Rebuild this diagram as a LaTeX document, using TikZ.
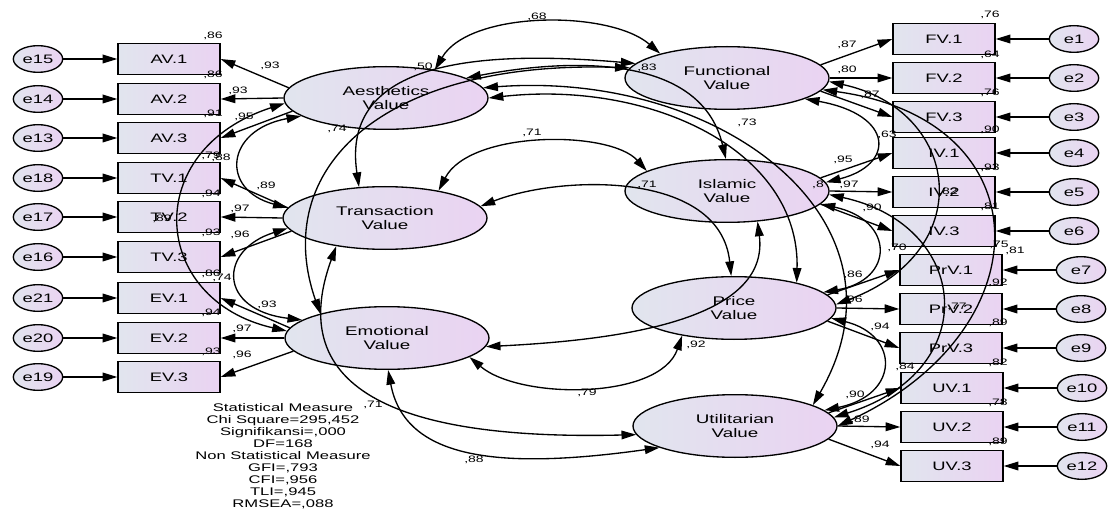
\documentclass[tikz,border=0pt]{standalone}
\usepackage{fontspec}
\setmainfont{Liberation Sans}[FakeStretch=1.5]
\usetikzlibrary{arrows.meta,shapes.geometric}
\definecolor{fillL}{HTML}{E1E5EE}
\definecolor{fillR}{HTML}{EAD3F2}
\tikzset{
  lat/.style={ellipse,draw,line width=1pt,minimum width=153pt,minimum height=47pt,inner sep=0pt,
    left color=fillL,right color=fillR,align=center,font=\fontsize{9.4}{10.7}\selectfont},
  obs/.style={rectangle,draw,line width=1pt,minimum width=76.5pt,minimum height=23pt,inner sep=0pt,
    left color=fillL,right color=fillR,font=\fontsize{9.2}{11}\selectfont},
  err/.style={ellipse,draw,line width=1pt,minimum width=37pt,minimum height=20pt,inner sep=0pt,
    left color=fillL,right color=fillR,font=\fontsize{9.2}{11}\selectfont},
  lab/.style={font=\fontsize{7}{8}\selectfont,inner sep=0pt},
  ld/.style={->,line width=1pt},
  cov/.style={<->,line width=1pt},
  >={Triangle[length=11pt,width=6.5pt]}
}
\begin{document}
\begin{tikzpicture}[x=0.75pt,y=-0.75pt]
\useasboundingbox (0,0) rectangle (1109,513);
% left observed
\node[obs] (AV1) at (169,59) {AV.1};
\node[obs] (AV2) at (169,99) {AV.2};
\node[obs] (AV3) at (169,138) {AV.3};
\node[obs] (TV1) at (169,178) {TV.1};
\node[obs] (TV2) at (169,217) {TV.2};
\node[obs] (TV3) at (169,257) {TV.3};
\node[obs] (EV1) at (169,298) {EV.1};
\node[obs] (EV2) at (169,338) {EV.2};
\node[obs] (EV3) at (169,377) {EV.3};
% left errors
\node[err] (e15) at (38,59) {e15};
\node[err] (e14) at (38,99) {e14};
\node[err] (e13) at (38,138) {e13};
\node[err] (e18) at (38,178) {e18};
\node[err] (e17) at (38,217) {e17};
\node[err] (e16) at (38,257) {e16};
\node[err] (e21) at (38,298) {e21};
\node[err] (e20) at (38,338) {e20};
\node[err] (e19) at (38,377) {e19};
% right observed
\node[obs] (FV1) at (944,39) {FV.1};
\node[obs] (FV2) at (944,78) {FV.2};
\node[obs] (FV3) at (944,117) {FV.3};
\node[obs] (IV1) at (944,153) {IV.1};
\node[obs] (IV2) at (944,192) {IV.2};
\node[obs] (IV3) at (944,231) {IV.3};
\node[obs] (PV1) at (951,270) {PrV.1};
\node[obs] (PV2) at (951,309) {PrV.2};
\node[obs] (PV3) at (951,348) {PrV.3};
\node[obs] (UV1) at (952,388) {UV.1};
\node[obs] (UV2) at (952,427) {UV.2};
\node[obs] (UV3) at (952,466) {UV.3};
% right errors
\node[err] (e1) at (1074,39) {e1};
\node[err] (e2) at (1074,78) {e2};
\node[err] (e3) at (1074,117) {e3};
\node[err] (e4) at (1074,153) {e4};
\node[err] (e5) at (1074,192) {e5};
\node[err] (e6) at (1074,231) {e6};
\node[err] (e7) at (1081,270) {e7};
\node[err] (e8) at (1081,309) {e8};
\node[err] (e9) at (1081,348) {e9};
\node[err] (e10) at (1082,388) {e10};
\node[err] (e11) at (1082,427) {e11};
\node[err] (e12) at (1082,466) {e12};
% latents
\node[lat] (Aes) at (386,98) {Aesthetics\\Value};
\node[lat] (Tra) at (385,218) {Transaction\\Value};
\node[lat] (Emo) at (387,338) {Emotional\\Value};
\node[lat] (Fun) at (727,78) {Functional\\Value};
\node[lat] (Isl) at (727,191) {Islamic\\Value};
\node[lat] (Pri) at (734,308) {Price\\Value};
\node[lat] (Uti) at (735,426) {Utilitarian\\Value};
% error arrows
\foreach \e/\b in {e15/AV1,e14/AV2,e13/AV3,e18/TV1,e17/TV2,e16/TV3,e21/EV1,e20/EV2,e19/EV3}
  \draw[ld] (\e) -- (\b);
\foreach \e/\b in {e1/FV1,e2/FV2,e3/FV3,e4/IV1,e5/IV2,e6/IV3,e7/PV1,e8/PV2,e9/PV3,e10/UV1,e11/UV2,e12/UV3}
  \draw[ld] (\e) -- (\b);
% loadings left
\foreach \l/\a/\b/\c in {Aes/AV1/AV2/AV3,Tra/TV1/TV2/TV3,Emo/EV1/EV2/EV3}{
  \draw[ld] (\l.174) -- (\a.east);
  \draw[ld] (\l.180) -- (\b.east);
  \draw[ld] (\l.188) -- (\c.east);
}
% loadings right
\foreach \l/\a/\b/\c in {Fun/FV1/FV2/FV3,Isl/IV1/IV2/IV3,Pri/PV1/PV2/PV3,Uti/UV1/UV2/UV3}{
  \draw[ld] (\l.8) -- (\a.west);
  \draw[ld] (\l.0) -- (\b.west);
  \draw[ld] (\l.352) -- (\c.west);
}
% covariances
\draw[cov] (Aes.192) .. controls (225,130) and (220,190) .. (Tra.174);
\draw[cov] (Tra.186) .. controls (218,250) and (218,310) .. (Emo.168);
\draw[cov] (Aes.183) .. controls (140,150) and (150,300) .. (Emo.176);
\draw[cov] (Fun.345) .. controls (895,115) and (895,165) .. (Isl.5);
\draw[cov] (Isl.352) .. controls (895,220) and (895,280) .. (Pri.10);
\draw[cov] (Pri.354) .. controls (900,335) and (900,395) .. (Uti.10);
\draw[cov] (Fun.358) .. controls (960,110) and (980,250) .. (Pri.2);
\draw[cov] (Isl.358) .. controls (970,225) and (985,370) .. (Uti.5);
\draw[cov] (Fun.353) .. controls (1045,120) and (1045,330) .. (Uti.0);
\draw[cov] (Aes.30) .. controls (470,10) and (610,10) .. (Fun.160);
\draw[cov] (Tra.27) .. controls (470,130) and (610,130) .. (Isl.166);
\draw[cov] (Emo.347) .. controls (520,400) and (660,400) .. (Pri.208);
\draw[cov] (Emo.272) .. controls (405,460) and (500,470) .. (Uti.196);
\draw[cov] (Tra.210) .. controls (280,400) and (420,440) .. (Uti.185);
\draw[cov] (Aes.0) .. controls (650,80) and (800,150) .. (Pri.22);
\draw[cov] (Aes.6) .. controls (720,70) and (920,220) .. (Uti.15);
\draw[cov] (Tra.130) .. controls (340,60) and (480,50) .. (Fun.171);
\draw[cov] (Emo.160) .. controls (270,170) and (380,60) .. (Fun.174);
\draw[cov] (Tra.7) .. controls (560,175) and (720,170) .. (Pri.95);
\draw[cov] (Emo.355) .. controls (620,340) and (770,320) .. (Isl.315);
\draw[cov] (Aes.14) .. controls (560,60) and (700,50) .. (Isl.92);
% left R2 labels
\node[lab] (r1) at (213,36) {,86};
\node[lab] (r2) at (213,75) {,86};
\node[lab] (r3) at (213,114) {,91};
\node[lab] (r4) at (211,156) {,79};
\node[lab] (r5) at (211,194) {,94};
\node[lab] (r6) at (211,233) {,93};
\node[lab] (r7) at (211,274) {,86};
\node[lab] (r8) at (211,313) {,94};
\node[lab] (r9) at (211,352) {,93};
% left loadings
\node[lab] (l1) at (270,66) {,93};
\node[lab] (l2) at (238,91) {,93};
\node[lab] (l3) at (244,117) {,95};
\node[lab] (l4) at (266,186) {,89};
\node[lab] (l5) at (240,209) {,97};
\node[lab] (l6) at (240,235) {,96};
\node[lab] (l7) at (267,305) {,93};
\node[lab] (l8) at (242,329) {,97};
\node[lab] (l9) at (242,355) {,96};
% right loadings
\node[lab] (m1) at (847,45) {,87};
\node[lab] (m2) at (847,70) {,80};
\node[lab] (m3) at (870,95) {,87};
\node[lab] (m4) at (843,160) {,95};
\node[lab] (m5) at (849,185) {,97};
\node[lab] (m6) at (872,208) {,90};
\node[lab] (m7) at (853,275) {,86};
\node[lab] (m8) at (853,300) {,96};
\node[lab] (m9) at (880,327) {,94};
\node[lab] (m10) at (855,395) {,90};
\node[lab] (m11) at (860,420) {,89};
\node[lab] (m12) at (880,445) {,94};
% right R2 labels
\node[lab] (s1) at (990,15) {,76};
\node[lab] (s2) at (990,55) {,64};
\node[lab] (s3) at (990,93) {,76};
\node[lab] (s4) at (990,130) {,90};
\node[lab] (s5) at (990,168) {,93};
\node[lab] (s6) at (990,207) {,81};
\node[lab] (s7) at (999,245) {,75};
\node[lab] (s8) at (998,283) {,92};
\node[lab] (s9) at (998,323) {,89};
\node[lab] (s10) at (998,363) {,82};
\node[lab] (s11) at (998,403) {,78};
\node[lab] (s12) at (998,442) {,89};
% covariance labels
\node[lab] (c1) at (221,158) {,88};
\node[lab] (c2) at (222,278) {,74};
\node[lab] (c3) at (162,219) {,89};
\node[lab] (c4) at (887,135) {,63};
\node[lab] (c5) at (897,248) {,70};
\node[lab] (c6) at (905,367) {,84};
\node[lab] (c7) at (948,192) {,82};
\node[lab] (c8) at (957,307) {,77};
\node[lab] (c9) at (1015,251) {,81};
\node[lab] (c10) at (537,17) {,68};
\node[lab] (c11) at (532,133) {,71};
\node[lab] (c12) at (587,393) {,79};
\node[lab] (c13) at (474,460) {,88};
\node[lab] (c14) at (373,405) {,71};
\node[lab] (c15) at (747,123) {,73};
\node[lab] (c16) at (818,185) {,8};
\node[lab] (c17) at (423,67) {,50};
\node[lab] (c18) at (337,129) {,74};
\node[lab] (c19) at (647,185) {,71};
\node[lab] (c20) at (696,345) {,92};
\node[lab] (c21) at (647,68) {,83};
% statistics
\node[align=center,inner sep=0pt,font=\fontsize{8.3}{9}\selectfont] (stats) at (283,456)
  {Statistical Measure\\Chi Square=295,452\\Signifikansi=,000\\DF=168\\Non Statistical Measure\\GFI=,793\\CFI=,956\\TLI=,945\\RMSEA=,088};
\end{tikzpicture}
\end{document}
